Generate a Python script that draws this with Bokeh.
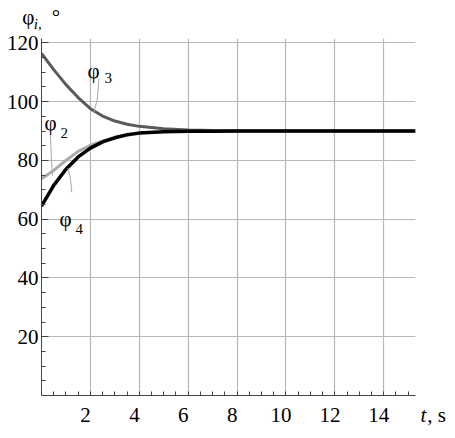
from bokeh.plotting import figure
from bokeh.models import Range1d, FixedTicker, LinearAxis, Label
from bokeh.embed import file_html
from bokeh.resources import INLINE

# ---- data ----
t = [0, 0.5, 1, 1.5, 2, 2.5, 3, 3.5, 4, 5, 6, 7, 8, 9, 10, 12, 15.3]
phi3 = [116.4, 110.9, 105.8, 101.4, 97.6, 95.1, 93.4, 92.3, 91.6, 90.8, 90.35, 90.15, 90.05, 90.0, 90.0, 90.0, 90.0]
phi4 = [64.5, 71.5, 77.0, 81.2, 84.2, 86.3, 87.7, 88.7, 89.3, 89.75, 89.9, 89.97, 90.0, 90.0, 90.0, 90.0, 90.0]
t2 = [0, 0.5, 1, 1.5, 2, 2.5, 3, 3.5, 4]
phi2 = [73.8, 76.6, 80.0, 83.1, 85.1, 86.6, 87.9, 88.9, 89.4]

x_ticks = [2, 4, 6, 8, 10, 12, 14]
x_minor = [k * 0.5 for k in range(1, 31)]
y_ticks = [20, 40, 60, 80, 100, 120]
y_minor = [k * 5 for k in range(1, 25)]

y_title = ["φ", "i,", "°"]
x_title = ["t", ", s"]

FONT = "Liberation Serif"
AX = "#444444"
NB = "\u00a0"

p = figure(output_backend="svg", toolbar_location=None,
           x_range=Range1d(0, 15.3), y_range=Range1d(0, 121.5),
           frame_width=374, frame_height=357,
           min_border_left=41, min_border_right=40, min_border_top=38, min_border_bottom=43)
p.outline_line_color = None
p.background_fill_color = "white"


def blank(ax):
    ax.axis_line_color = None
    ax.major_tick_line_color = None
    ax.minor_tick_line_color = None
    ax.major_tick_in = 0
    ax.major_tick_out = 0
    ax.minor_tick_in = 0
    ax.minor_tick_out = 0
    ax.major_label_text_font = FONT
    ax.major_label_text_color = "black"


X_END = 15.299

# main x axis: line + inward ticks; its only label is the italic "t" of the axis title
xa = p.xaxis[0]
xa.ticker = FixedTicker(ticks=[X_END], minor_ticks=x_minor)
xa.major_label_overrides = {X_END: NB * 3 + x_title[0]}
xa.major_label_text_font = FONT
xa.major_label_text_font_size = "21px"
xa.major_label_text_font_style = "italic"
xa.major_label_text_color = "black"
xa.major_label_standoff = 7
xa.major_tick_in = 0
xa.major_tick_out = 0
xa.major_tick_line_color = None
xa.minor_tick_in = 4
xa.minor_tick_out = 0
xa.axis_line_color = AX
xa.minor_tick_line_color = AX

# x tick labels (shifted slightly left of the ticks as in the reference) + ", s"
p.extra_x_ranges = {"lab": Range1d(0.2, 15.5)}
LAB_END = 15.499
lab_axis = LinearAxis(x_range_name="lab", ticker=FixedTicker(ticks=x_ticks + [LAB_END], minor_ticks=[]),
                      major_label_overrides={LAB_END: NB * 8 + x_title[1]})
blank(lab_axis)
lab_axis.major_label_text_font_size = "21px"
lab_axis.major_label_standoff = -27
p.add_layout(lab_axis, "below")

# y axis
ya = p.yaxis[0]
ya.ticker = FixedTicker(ticks=y_ticks, minor_ticks=y_minor)
ya.major_label_text_font = FONT
ya.major_label_text_font_size = "21px"
ya.major_label_text_color = "black"
ya.major_label_standoff = 3
ya.major_tick_in = 7
ya.major_tick_out = 0
ya.minor_tick_in = 4
ya.minor_tick_out = 0
ya.axis_line_color = AX
ya.major_tick_line_color = AX
ya.minor_tick_line_color = AX

# y-axis title "φi, °" above the axis
X0 = 0.001
ti = LinearAxis(ticker=FixedTicker(ticks=[X0], minor_ticks=[]),
                major_label_overrides={X0: y_title[1] + NB * 2})
blank(ti)
ti.major_label_text_font_size = "15px"
ti.major_label_text_font_style = "italic"
ti.major_label_standoff = 7
p.add_layout(ti, "above")

tphi = LinearAxis(ticker=FixedTicker(ticks=[X0, 0.59], minor_ticks=[]),
                  major_label_overrides={X0: y_title[0] + NB * 5, 0.59: y_title[2]})
blank(tphi)
tphi.major_label_text_font_size = "21px"
tphi.major_label_standoff = -16
p.add_layout(tphi, "above")

# grids
p.xgrid[0].ticker = FixedTicker(ticks=x_ticks)
p.ygrid[0].ticker = FixedTicker(ticks=y_ticks)
for g in (p.xgrid[0], p.ygrid[0]):
    g.grid_line_color = "#b8b8b8"
    g.grid_line_width = 1.2

# curves
p.line(t, phi3, line_color="#5a5a5a", line_width=3)
p.line(t2, phi2, line_color="#aaaaaa", line_width=3)
p.line(t, phi4, line_color="black", line_width=3.5)

# leader lines
p.line([2.35, 2.28, 2.14], [107.9, 100.5, 96.3], line_color="#aaaaaa", line_width=1)
p.line([0.36, 0.41, 0.45], [88.9, 80.0, 74.8], line_color="#aaaaaa", line_width=1)
p.line([1.24, 1.18, 1.08], [69.2, 74.0, 77.4], line_color="#aaaaaa", line_width=1)


def lab(x, y, text, size, style="normal"):
    p.add_layout(Label(x=x, y=y, text=text, text_font=FONT, text_font_size=size,
                       text_font_style=style, text_color="black",
                       text_baseline="alphabetic", text_align="left"))


# curve labels
lab(1.88, 110.4, "φ", "21px")
lab(2.58, 107.9, "3", "15px")
lab(0.12, 92.6, "φ", "21px")
lab(0.78, 89.2, "2", "15px")
lab(0.74, 59.9, "φ", "21px")
lab(1.39, 56.8, "4", "15px")

open("out.html", "w").write(file_html(p, INLINE))
